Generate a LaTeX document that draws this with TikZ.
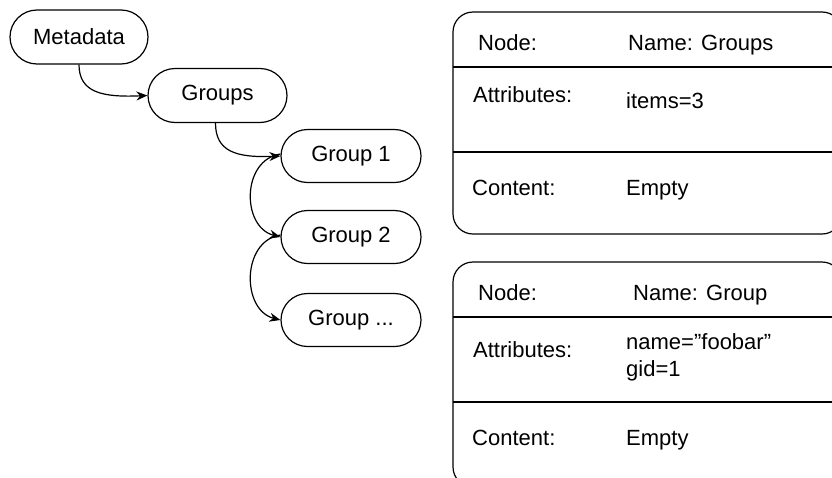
\documentclass[tikz,border=0pt]{standalone}
\usepackage{fontspec}
\setmainfont{Liberation Sans}
\usetikzlibrary{shapes.misc,arrows.meta}
\begin{document}
\begin{tikzpicture}[x=1pt,y=-1pt,
  every node/.style={font=\fontsize{22}{27}\selectfont},
  pill/.style={draw,line width=1.2pt,rounded rectangle,minimum width=138pt,minimum height=54pt,inner sep=0pt},
  lbl/.style={anchor=base west,inner sep=0pt},
  conn/.style={line width=1.2pt,-{Stealth[length=11pt,width=9pt]}},
  tbl/.style={line width=1.2pt,rounded corners=20pt}]
\useasboundingbox (0,0) rectangle (832,477);
% left tree
\node[pill] (meta) at (79,37) {Metadata};
\node[pill,minimum width=139pt] (groups) at (217.5,95.5) {Groups};
\node[pill,minimum height=53pt,minimum width=140pt] (g1) at (351,156) {Group 1};
\node[pill,minimum height=53pt,minimum width=140pt] (g2) at (351,237) {Group 2};
\node[pill,minimum height=53pt,minimum width=140pt] (g3) at (351,320) {Group ...};
\draw[conn] (meta.south) .. controls +(0,28) and +(-45,2) .. (groups.west);
\draw[conn] ([xshift=-2pt]groups.south) .. controls +(0,28) and +(-45,2) .. (g1.west);
\draw[conn] ([yshift=2pt]g1.west) .. controls +(-39,6) and +(-39,-10) .. (g2.west);
\draw[conn] ([yshift=2pt]g2.west) .. controls +(-39,6) and +(-39,-10) .. (g3.west);
% right tables
\begin{scope}
\clip (0,0) rectangle (832,477);
\draw[tbl] (453,12) rectangle (842,234);
\draw[line width=1.2pt] (453,67) -- (845,67);
\draw[line width=1.2pt] (453,152) -- (845,152);
\draw[tbl] (453,262) rectangle (842,487);
\draw[line width=1.2pt] (453,317) -- (845,317);
\draw[line width=1.2pt] (453,402) -- (845,402);
\end{scope}
\node[lbl] (n1) at (478,50) {Node:};
\node[lbl] (v1) at (628,50) {Name: Groups};
\node[lbl] (a1) at (473,102) {Attributes:};
\node[lbl] (av1) at (626,108) {items=3};
\node[lbl] (c1) at (472,195) {Content:};
\node[lbl] (cv1) at (626,195) {Empty};
\node[lbl] (n2) at (478,300) {Node:};
\node[lbl] (v2) at (633,300) {Name: Group};
\node[lbl] (a2) at (473,357) {Attributes:};
\node[lbl,align=left,anchor=north west] (av2) at (626,333) {name=”foobar”\\gid=1};
\node[lbl] (c2) at (472,445) {Content:};
\node[lbl] (cv2) at (626,445) {Empty};
\end{tikzpicture}
\end{document}
